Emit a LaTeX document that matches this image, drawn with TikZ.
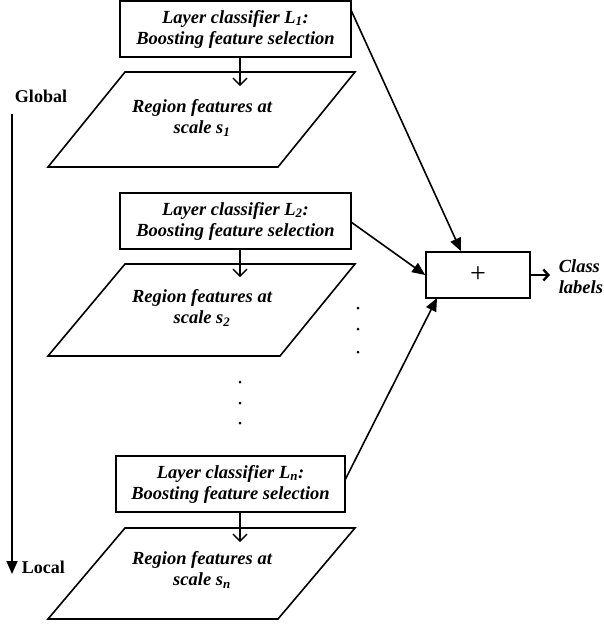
\documentclass[tikz,border=0pt]{standalone}
\usepackage{fontspec}
\setmainfont{Liberation Serif}
\usetikzlibrary{arrows.meta}
\begin{document}
\begin{tikzpicture}[x=1pt,y=-1pt,line width=1.6pt,
  txt/.style={font=\fontsize{18.5}{21}\selectfont\bfseries\itshape,align=center,inner sep=0pt},
  lbl/.style={font=\fontsize{18}{20}\selectfont\bfseries,inner sep=0pt},
  vtip/.style={-{Straight Barb[length=7pt,width=14pt,line width=1.4pt]}},
  ftip/.style={-{Triangle[length=13pt,width=11pt]}},
  btip/.style={-{Straight Barb[length=5pt,width=11pt,line width=2.4pt]}}]
\useasboundingbox (0,0) rectangle (604,625);
% layer boxes
\node[draw,minimum width=231pt,minimum height=56pt,txt] (b1) at (235.5,29) {Layer classifier \textit{L\textsubscript{1}}:\\Boosting feature selection};
\node[draw,minimum width=231pt,minimum height=56pt,txt] (b2) at (235.5,221) {Layer classifier \textit{L\textsubscript{2}}:\\Boosting feature selection};
\node[draw,minimum width=229pt,minimum height=56pt,txt] (bn) at (230.5,484) {Layer classifier \textit{L\textsubscript{n}}:\\Boosting feature selection};
% parallelograms
\draw (125,72) -- (355,72) -- (278,167) -- (48,167) -- cycle;
\draw (125,264) -- (355,264) -- (280,356) -- (48,356) -- cycle;
\draw (125,528) -- (355,528) -- (278,619) -- (48,619) -- cycle;
\node[txt] (r1) at (202,118) {Region features at\\scale \textit{s\textsubscript{1}}};
\node[txt] (r2) at (202,308) {Region features at\\scale \textit{s\textsubscript{2}}};
\node[txt] (rn) at (202,570) {Region features at\\scale \textit{s\textsubscript{n}}};
\coordinate (t1) at (240,86);
\coordinate (t2) at (240,277);
\coordinate (tn) at (240,542);
\draw[vtip] (b1.south -| t1) -- (t1);
\draw[vtip] (b2.south -| t2) -- (t2);
\draw[vtip] (bn.south -| tn) -- (tn);
% plus box
\node[draw,minimum width=104pt,minimum height=46pt,inner sep=0pt,font=\fontsize{28}{28}\selectfont] (plus) at (478,275) {+};
\coordinate (s1) at (351,10);
\coordinate (s2) at (351,222);
\coordinate (sn) at (345,480);
\draw[ftip] (s1) -- (plus.north west -| 461,0);
\draw[ftip] (s2) -- (plus.west);
\draw[ftip] (sn) -- (437,298);
% output
\node[txt,anchor=west,align=left] (cl) at (558,277) {Class\\labels};
\draw[btip] (plus.east) -- (550,275);
% dots
\foreach \y in {382,403,423} \fill (240,\y) circle (1.5pt);
\foreach \y in {308,329,352} \fill (358,\y) circle (1.5pt);
% global-local axis
\node[lbl] (gl) at (41,96) {Global};
\node[lbl,anchor=west] (lo) at (21,567) {Local};
\coordinate (a0) at (12,114);
\coordinate (a1) at (12,574);
\draw[ftip] (a0) -- (a1);
\end{tikzpicture}
\end{document}
